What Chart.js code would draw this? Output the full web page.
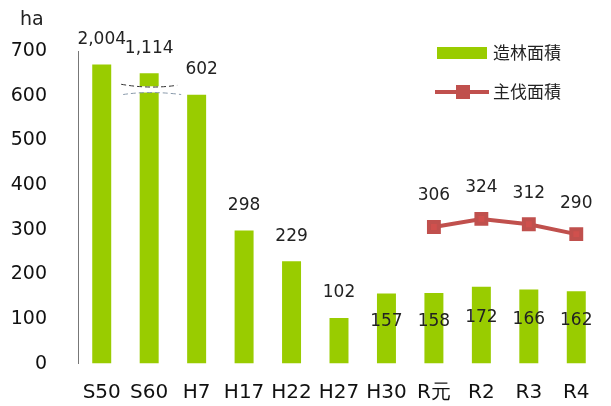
<!DOCTYPE html>
<html>
<head>
<meta charset="utf-8">
<script src="https://cdn.jsdelivr.net/npm/chart.js@4.4.1/dist/chart.umd.min.js"></script>
<style>
  html, body { margin: 0; padding: 0; background: #fff; }
  #wrap { width: 611px; height: 406px; }
</style>
</head>
<body>
<div id="wrap"><canvas id="forestChart"></canvas></div>
<script>
// data
const categories = ['S50', 'S60', 'H7', 'H17', 'H22', 'H27', 'H30', 'R元', 'R2', 'R3', 'R4'];
const plantedArea = [2004, 1114, 602, 298, 229, 102, 157, 158, 172, 166, 162];   // 造林面積
const harvestArea = [null, null, null, null, null, null, null, 306, 324, 312, 290]; // 主伐面積
const yTicks = [0, 100, 200, 300, 400, 500, 600, 700];

// bars that run off the axis are cut at these heights (broken axis)
const barCap = [670, 650, null, null, null, null, null, null, null, null, null];
const breakLow = 607, breakHigh = 621; // gap drawn in the S60 bar

const shownArea = plantedArea.map((v, i) => barCap[i] ? Math.min(v, barCap[i]) : v);

const FONT = '"DejaVu Sans", Verdana, sans-serif';
const GREEN = '#99cc00';
const RED = '#c0504d';

// 1. broken bar + value labels + unit + legend
const decorations = {
    id: 'decorations',
    afterDatasetsDraw(chart) {
        const c = chart.ctx;
        const y = chart.scales.y;
        const barMeta = chart.getDatasetMeta(0);
        const lineMeta = chart.getDatasetMeta(1);

        // gap in the S60 bar
        const bar = barMeta.data[1];
        const yLo = y.getPixelForValue(breakLow), yHi = y.getPixelForValue(breakHigh);
        c.save();
        c.fillStyle = '#fff';
        c.fillRect(bar.x - 20, yHi, 40, yLo - yHi);
        c.setLineDash([5, 3]);
        c.lineWidth = 1;
        c.strokeStyle = '#333';
        c.beginPath();
        c.moveTo(bar.x - 28, yHi - 2);
        c.quadraticCurveTo(bar.x, yHi + 3, bar.x + 28, yHi - 1);
        c.stroke();
        c.strokeStyle = '#8899aa';
        c.beginPath();
        c.moveTo(bar.x - 26, yLo + 2);
        c.quadraticCurveTo(bar.x, yLo - 2, bar.x + 32, yLo + 2);
        c.stroke();
        c.restore();

        // bar labels
        c.save();
        c.font = '17px ' + FONT;
        c.textAlign = 'center';
        c.textBaseline = 'middle';
        c.fillStyle = '#222';
        barMeta.data.forEach((el, i) => {
            const txt = plantedArea[i].toLocaleString('en-US');
            if (i >= 6) {
                c.fillText(txt, el.x, y.getPixelForValue(shownArea[i] * 0.6));
            } else {
                c.fillText(txt, el.x + (i === 2 ? 5 : 0), el.y - 25);
            }
        });
        // line labels
        lineMeta.data.forEach((el, i) => {
            if (harvestArea[i] == null) return;
            c.fillText(String(harvestArea[i]), el.x, el.y - 31);
        });

        // unit
        c.font = '19px ' + FONT;
        c.textAlign = 'left';
        c.fillText('ha', 20, 20);

        // legend
        const lx = 437, ly1 = 53, ly2 = 92;
        c.fillStyle = GREEN;
        c.fillRect(lx, ly1 - 6, 50, 12);
        c.strokeStyle = RED;
        c.lineWidth = 4;
        c.beginPath();
        c.moveTo(lx - 2, ly2);
        c.lineTo(lx + 52, ly2);
        c.stroke();
        c.fillStyle = RED;
        c.fillRect(lx + 19, ly2 - 7, 14, 14);
        c.fillStyle = '#222';
        c.font = '17px "Noto Sans CJK JP", sans-serif';
        c.fillText(chart.data.datasets[0].label, lx + 56, ly1);
        c.fillText(chart.data.datasets[1].label, lx + 56, ly2);
        c.restore();
    }
};

const ctx = document.getElementById('forestChart').getContext('2d');

let mainChart = new Chart(ctx, {
    data: {
        labels: categories,
        datasets: [{
            type: 'bar',
            label: '造林面積',
            data: shownArea,
            backgroundColor: GREEN,
            barPercentage: 0.8,
            categoryPercentage: 0.5,
            order: 2
        }, {
            type: 'line',
            label: '主伐面積',
            data: harvestArea,
            borderColor: RED,
            backgroundColor: RED,
            borderWidth: 4,
            pointStyle: 'rect',
            pointRadius: 7,
            pointBackgroundColor: '#d0504d',
            pointBorderColor: RED,
            spanGaps: false,
            order: 1
        }]
    },
    options: {
        responsive: true,
        maintainAspectRatio: false,
        animation: false,
        layout: { padding: { left: 10, top: 51, right: 2, bottom: 0 } },
        plugins: {
            legend: { display: false },
            tooltip: { enabled: false }
        },
        scales: {
            x: {
                afterFit: s => { s.height = 38; },
                grid: { display: false, drawTicks: false },
                border: { display: false },
                ticks: { color: '#111', font: { size: 20, family: FONT }, padding: 17, maxRotation: 0 }
            },
            y: {
                min: 0,
                max: 700,
                afterBuildTicks: s => { s.ticks = yTicks.map(v => ({ value: v })); },
                afterFit: s => { s.width = 68; },
                grid: { display: false, drawTicks: false },
                border: { display: true, color: '#777' },
                ticks: { color: '#111', font: { size: 19, family: FONT }, padding: 31 }
            }
        }
    },
    plugins: [decorations]
});
</script>
</body>
</html>
